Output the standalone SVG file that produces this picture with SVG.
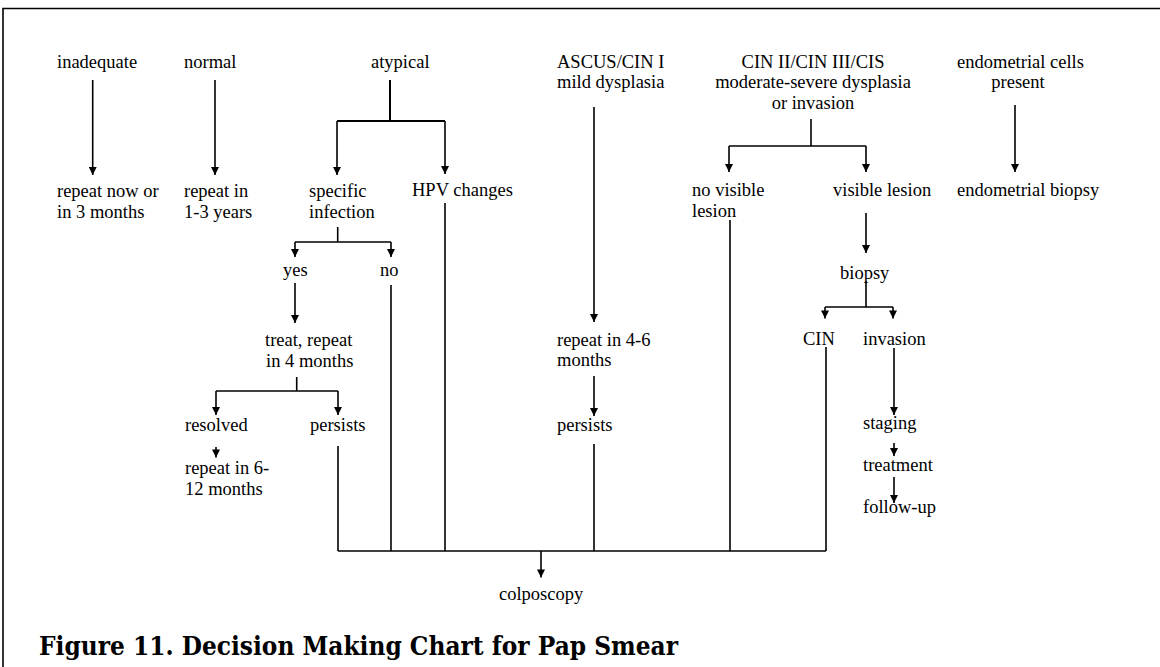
<svg xmlns="http://www.w3.org/2000/svg" width="1160" height="667" viewBox="0 0 1160 667">
<style>
text{font-family:"Liberation Serif","Times New Roman",serif;font-size:18.5px;fill:#000}
.c{text-anchor:middle}
.title{font-family:"DejaVu Serif","Liberation Serif",serif;font-weight:bold;font-size:26px}
.ln{fill:none;stroke:#000;stroke-width:1.6}
.ar{fill:none;stroke:#000;stroke-width:1.6;marker-end:url(#ah)}
.frame{fill:none;stroke:#000;stroke-width:1.6}
</style>
<defs>
<marker id="ah" viewBox="0 0 10 10" refX="10" refY="5" markerWidth="10" markerHeight="8" markerUnits="userSpaceOnUse" orient="auto">
<path d="M0,0 L10,5 L0,10 z" fill="#000"/>
</marker>
</defs>
<rect width="1160" height="667" fill="#fff"/>
<path class="frame" d="M3,667 V8.5 H1160"/>

<g id="connectors">
<path class="ar" d="M92.7,80 V175"/>
<path class="ar" d="M215,80 V175"/>
<path class="ln" d="M390,80 V121" style="stroke-width:2"/>
<path class="ln" d="M337,121 H445" style="stroke-width:2"/>
<path class="ar" d="M337,121 V175"/>
<path class="ar" d="M445,121 V174"/>
<path class="ln" d="M445,203 V551"/>
<path class="ln" d="M337.7,227 V242"/>
<path class="ln" d="M295,242 H391"/>
<path class="ar" d="M295,242 V257"/>
<path class="ar" d="M391,242 V257"/>
<path class="ar" d="M295,283 V323"/>
<path class="ln" d="M296.7,377 V391"/>
<path class="ln" d="M216,391 H338"/>
<path class="ar" d="M216,391 V415"/>
<path class="ar" d="M338,391 V415"/>
<path class="ar" d="M216,447 V457.5"/>
<path class="ln" d="M338,446 V551"/>
<path class="ln" d="M391,285 V551"/>
<path class="ar" d="M594,107 V322"/>
<path class="ar" d="M594,376 V416"/>
<path class="ln" d="M594,444 V551"/>
<path class="ln" d="M811,119 V146"/>
<path class="ln" d="M729,146 H866"/>
<path class="ar" d="M729,146 V172"/>
<path class="ar" d="M866,146 V172"/>
<path class="ln" d="M730,220 V551"/>
<path class="ar" d="M866,213 V253"/>
<path class="ln" d="M866,281 V307"/>
<path class="ln" d="M825,307 H893"/>
<path class="ar" d="M825,307 V318.5"/>
<path class="ar" d="M893,307 V318.5"/>
<path class="ln" d="M826,347 V551"/>
<path class="ar" d="M894,348 V415"/>
<path class="ar" d="M894,443 V456"/>
<path class="ar" d="M894,477 V503"/>
<path class="ar" d="M1015,105 V172"/>
<path class="ln" d="M338,551 H826"/>
<path class="ar" d="M541,551 V577.5"/>
</g>

<g id="n-inadequate"><text x="57" y="67.5">inadequate</text></g>
<g id="n-normal"><text x="184" y="67.5">normal</text></g>
<g id="n-atypical"><text x="371" y="67.5">atypical</text></g>
<g id="n-ascus"><text x="557" y="67.5">ASCUS/CIN I</text><text x="557" y="88">mild dysplasia</text></g>
<g id="n-cin2"><text class="c" x="813" y="67.5">CIN II/CIN III/CIS</text><text class="c" x="813" y="88">moderate-severe dysplasia</text><text class="c" x="813" y="108.5">or invasion</text></g>
<g id="n-endo"><text class="c" x="1020.5" y="67.5">endometrial cells</text><text class="c" x="1018" y="88">present</text></g>
<g id="n-repeat-now"><text x="57" y="196.7">repeat now or</text><text x="57" y="217.7">in 3 months</text></g>
<g id="n-repeat-13"><text x="184" y="196.7">repeat in</text><text x="184" y="217.7">1-3 years</text></g>
<g id="n-specific"><text x="309" y="196.7">specific</text><text x="309" y="217.7">infection</text></g>
<g id="n-hpv"><text x="412" y="196">HPV changes</text></g>
<g id="n-novisible"><text x="692" y="196">no visible</text><text x="692" y="216.5">lesion</text></g>
<g id="n-visible"><text x="833" y="196">visible lesion</text></g>
<g id="n-endobiopsy"><text x="957" y="196">endometrial biopsy</text></g>
<g id="n-yes"><text x="283" y="276">yes</text></g>
<g id="n-no"><text x="380" y="276">no</text></g>
<g id="n-biopsy"><text x="840" y="278.5">biopsy</text></g>
<g id="n-treat"><text x="265" y="346">treat, repeat</text><text x="266" y="366.5">in 4 months</text></g>
<g id="n-repeat46"><text x="557" y="346">repeat in 4-6</text><text x="557" y="366">months</text></g>
<g id="n-cin"><text x="803" y="345">CIN</text></g>
<g id="n-invasion"><text x="863" y="345">invasion</text></g>
<g id="n-resolved"><text x="185" y="431">resolved</text></g>
<g id="n-persists1"><text x="310" y="431">persists</text></g>
<g id="n-persists2"><text x="557" y="431">persists</text></g>
<g id="n-staging"><text x="863" y="429">staging</text></g>
<g id="n-treatment"><text x="863" y="471">treatment</text></g>
<g id="n-repeat612"><text x="185" y="474">repeat in 6-</text><text x="185" y="495">12 months</text></g>
<g id="n-followup"><text x="863" y="513">follow-up</text></g>
<g id="n-colposcopy"><text x="499" y="600">colposcopy</text></g>
<g id="caption"><text class="title" x="39" y="655" textLength="639" lengthAdjust="spacingAndGlyphs">Figure 11. Decision Making Chart for Pap Smear</text></g>
</svg>
